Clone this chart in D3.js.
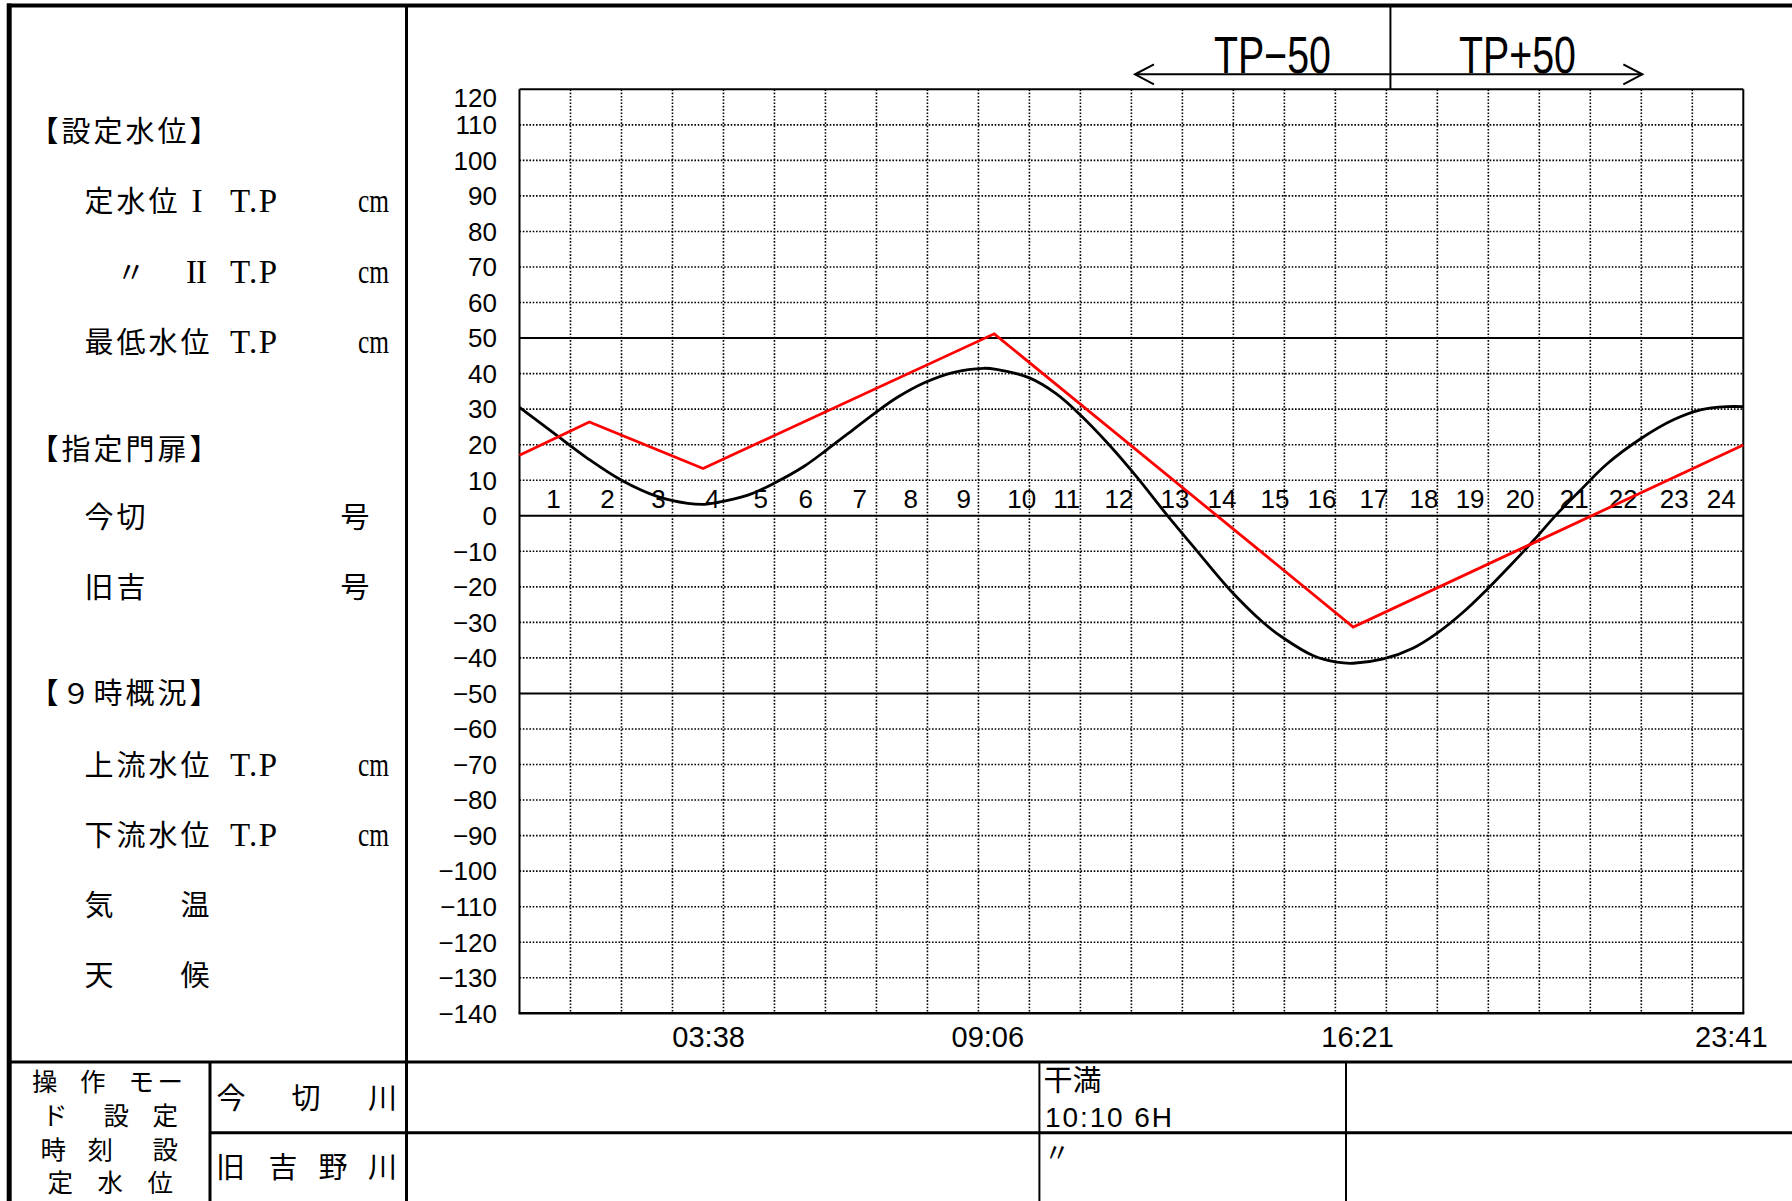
<!DOCTYPE html>
<html><head><meta charset="utf-8">
<script src="https://cdn.jsdelivr.net/npm/d3@7"></script>
<style>body{margin:0;background:#fff}svg{display:block}</style>
</head><body><svg id="c" width="1792" height="1201"></svg>
<script>
// ---------- data ----------
const yTicks = [120,110,100,90,80,70,60,50,40,30,20,10,0,-10,-20,-30,-40,-50,-60,-70,-80,-90,-100,-110,-120,-130,-140];
const solidLevels = [50, 0, -50];
const hourLabels = ["1","2","3","4","5","6","7","8","9","10","11","12","13","14","15","16","17","18","19","20","21","22","23","24"];
const hourLabelPos = [0.667,1.727,2.728,3.787,4.729,5.612,6.672,7.673,8.713,9.851,10.734,11.754,12.853,13.776,14.816,15.738,16.758,17.739,18.642,19.623,20.683,21.645,22.645,23.567];
const timeLabels = ["03:38","09:06","16:21","23:41"];
const timeLabelPos = [3.709, 9.184, 16.435, 23.765];
const tideHours  = [0,0.75,1.34,2.0,2.71,3.3,3.63,3.83,4.48,5.0,5.59,6.02,6.44,6.97,7.42,7.95,8.5,9.1,9.35,10.0,10.53,10.99,11.58,12.10,12.76,13.28,13.93,14.59,14.98,15.57,16.03,16.35,16.94,17.53,17.99,18.51,18.97,19.43,19.89,20.34,20.80,21.32,21.98,22.63,23.16,23.68,24];
const tideLevels = [30.5,22.4,16.1,10.0,5.4,3.5,3.2,3.6,5.8,9.2,14.0,18.5,23.1,28.9,33.4,37.5,40.3,41.5,41.2,38.8,34.3,28.5,19.7,11.0,-0.9,-9.8,-20.8,-30.1,-34.4,-39.4,-41.2,-41.5,-40.3,-37.2,-33.1,-27.1,-20.8,-14.0,-6.9,0.4,7.1,14.5,21.6,27.0,29.8,30.7,30.7];
const setHours  = [0, 1.37, 3.60, 9.31, 16.35, 24];
const setLevels = [17.0, 26.4, 13.3, 51.2, -31.3, 19.9];
const tpLabels = ["TP\u221250", "TP+50"];
const tpArrow = {from: 12.07, split: 17.06, to: 22.02};

// ---------- setup ----------
const svg = d3.select("#c");
svg.append("rect").attr("width",1792).attr("height",1201).attr("fill","#fff");
const CJK = "'Noto Sans CJK JP', sans-serif";
const NUM = "'Liberation Sans', Arial, sans-serif";
const SERIF = "'Liberation Serif', serif";

function line(x1,y1,x2,y2,w){
  return svg.append("line").attr("x1",x1).attr("y1",y1).attr("x2",x2).attr("y2",y2)
    .attr("stroke","#000").attr("stroke-width",w);
}
function cjk(s, x, yc, fs, ls){
  return svg.append("text").attr("x",x).attr("y",yc + 0.38*fs)
    .attr("font-family",CJK).attr("font-size",fs).attr("letter-spacing",ls||0)
    .attr("fill","#000").text(s);
}
function cjkChars(chars, xs, yc, fs){
  const t = svg.append("text").attr("y",yc + 0.38*fs).attr("font-family",CJK)
    .attr("font-size",fs).attr("fill","#000");
  chars.forEach((c,i)=>t.append("tspan").attr("x",xs[i]).text(c));
  return t;
}
function serif(s, x, yc, opts){
  const t = svg.append("text").attr("x",x).attr("y",yc+11).attr("font-family",SERIF)
    .attr("font-size",33).attr("fill","#000").text(s);
  if (opts) Object.entries(opts).forEach(([k,v])=>t.attr(k,v));
  return t;
}

// ---------- scales ----------
const x = d3.scaleLinear().domain([0,24]).range([519.5,1743.3]);
const y = d3.scaleLinear().domain([-140,120]).range([1013.3,89.3]);

// ---------- grid ----------
const g = svg.append("g");
g.selectAll("line.hg").data(yTicks.filter(v => !solidLevels.includes(v) && v!==120 && v!==-140))
  .join("line").attr("class","hg")
  .attr("x1",x(0)).attr("x2",x(24)).attr("y1",d=>y(d)).attr("y2",d=>y(d))
  .attr("stroke","#000").attr("stroke-width",1.6).attr("stroke-dasharray","1.6 1.7");
g.selectAll("line.vg").data(x.ticks(24).filter(h => h>0 && h<24))
  .join("line").attr("class","vg")
  .attr("x1",d=>x(d)).attr("x2",d=>x(d)).attr("y1",y(120)).attr("y2",y(-140))
  .attr("stroke","#000").attr("stroke-width",1.6).attr("stroke-dasharray","1.6 1.7");
g.selectAll("line.sg").data(solidLevels)
  .join("line").attr("class","sg")
  .attr("x1",x(0)).attr("x2",x(24)).attr("y1",d=>y(d)).attr("y2",d=>y(d))
  .attr("stroke","#000").attr("stroke-width",2);
line(x(0), y(120), x(24), y(120), 2);
line(x(0), y(120), x(0), y(-140), 2);
line(x(24), y(120), x(24), y(-140), 2);
line(x(0)-1, y(-140), x(24)+1, y(-140), 2.6);

// ---------- y labels ----------
svg.append("g").selectAll("text").data(yTicks).join("text")
  .attr("x",497).attr("y",d => y(d) + 9.3 + (d===120 ? 8.7 : 0))
  .attr("text-anchor","end").attr("font-family",NUM).attr("font-size",26).attr("fill","#000")
  .text(d => d < 0 ? "\u2212" + Math.abs(d) : String(d));

// ---------- hour labels ----------
svg.append("g").selectAll("text").data(hourLabels).join("text")
  .attr("x",(d,i)=>x(hourLabelPos[i])).attr("y",507.5)
  .attr("text-anchor","middle").attr("font-family",NUM).attr("font-size",26).attr("fill","#000")
  .text(d=>d);

// ---------- time labels ----------
svg.append("g").selectAll("text").data(timeLabels).join("text")
  .attr("x",(d,i)=>x(timeLabelPos[i])).attr("y",1047)
  .attr("text-anchor","middle").attr("font-family",NUM).attr("font-size",29).attr("fill","#000")
  .text(d=>d);

// ---------- series ----------
const tide = tideHours.map((h,i)=>[h, tideLevels[i]]);
const sets = setHours.map((h,i)=>[h, setLevels[i]]);
svg.append("path").datum(tide)
  .attr("d", d3.line().x(d=>x(d[0])).y(d=>y(d[1])).curve(d3.curveCatmullRom.alpha(0.5)))
  .attr("fill","none").attr("stroke","#000").attr("stroke-width",2.8);
svg.append("path").datum(sets)
  .attr("d", d3.line().x(d=>x(d[0])).y(d=>y(d[1])))
  .attr("fill","none").attr("stroke","#ff0000").attr("stroke-width",2.8);

// ---------- TP annotation ----------
const ay = 74.3;
const xs = x(tpArrow.split)+1, xf = x(tpArrow.from), xt = x(tpArrow.to);
line(xs, 5, xs, y(120), 2);
line(xf, ay, xt, ay, 2);
svg.append("path").attr("d",`M${xf+19},${ay-10}L${xf},${ay}L${xf+19},${ay+10}`)
  .attr("fill","none").attr("stroke","#000").attr("stroke-width",2);
svg.append("path").attr("d",`M${xt-19},${ay-10}L${xt},${ay}L${xt-19},${ay+10}`)
  .attr("fill","none").attr("stroke","#000").attr("stroke-width",2);
svg.append("text").attr("x",xs-176.5).attr("y",73).attr("font-family",NUM).attr("font-size",51)
  .attr("textLength",117).attr("lengthAdjust","spacingAndGlyphs").text(tpLabels[0]);
svg.append("text").attr("x",xs+68.5).attr("y",73).attr("font-family",NUM).attr("font-size",51)
  .attr("textLength",117).attr("lengthAdjust","spacingAndGlyphs").text(tpLabels[1]);

// ---------- left panel ----------
const FS = 29, LS = 3;
cjk("【設定水位】", 29.5, 131, FS, LS);
cjk("定水位", 84.5, 201, FS, LS);
serif("I", 197, 201, {"text-anchor":"middle"});
cjk("〃", 116.5, 272, FS, 0);
serif("II", 196, 272, {"text-anchor":"middle","letter-spacing":-1});
cjk("最低水位", 84.5, 342, FS, LS);
[201,272,342,765,835].forEach(yc=>{
  serif("T.P", 230, yc, {"textLength":47,"lengthAdjust":"spacing"});
  serif("cm", 358, yc, {"textLength":31,"lengthAdjust":"spacingAndGlyphs"});
});
cjk("【指定門扉】", 29.5, 449, FS, LS);
cjk("今切", 84.5, 517, FS, LS);
cjk("号", 340.5, 517, FS, LS);
cjk("旧吉", 84.5, 587, FS, LS);
cjk("号", 340.5, 587, FS, LS);
cjk("【９時概況】", 29.5, 693, FS, LS);
cjk("上流水位", 84.5, 765, FS, LS);
cjk("下流水位", 84.5, 835, FS, LS);
cjk("気　　温", 84.5, 905, FS, LS);
cjk("天　　候", 84.5, 975, FS, LS);

// ---------- frame lines ----------
line(7, 5.5, 1792, 5.5, 4);
line(9.2, 3.5, 9.2, 1201, 5);
line(406.5, 4, 406.5, 1201, 3);
line(7, 1062, 1792, 1062, 3);
line(210, 1132.7, 1792, 1132.7, 3);
line(210, 1062, 210, 1201, 3);
line(1039.4, 1062, 1039.4, 1201, 2);
line(1346, 1062, 1346, 1201, 2);

// ---------- bottom table ----------
const TF = 25.5;
cjkChars(["操","作","モ","ー"], [32,80,128.5,157.5], 1081, TF);
cjkChars(["ド","設","定"], [42,103.5,152.5], 1115, TF);
cjkChars(["時","刻","設"], [40.5,87.5,152.5], 1149, TF);
cjkChars(["定","水","位"], [47.5,97.5,147.5], 1182, TF);
cjkChars(["今","切","川"], [216.5,291.5,368], 1098, FS);
cjkChars(["旧","吉","野","川"], [216,268.5,318.5,368], 1167, FS);
cjk("干満", 1043.5, 1080, FS, 0);
svg.append("text").attr("x",1045).attr("y",1126.5).attr("font-family",NUM).attr("font-size",28)
  .attr("textLength",127).attr("lengthAdjust","spacing").text("10:10 6H");
cjk("〃", 1044, 1152, 26, 0);
</script></body></html>
